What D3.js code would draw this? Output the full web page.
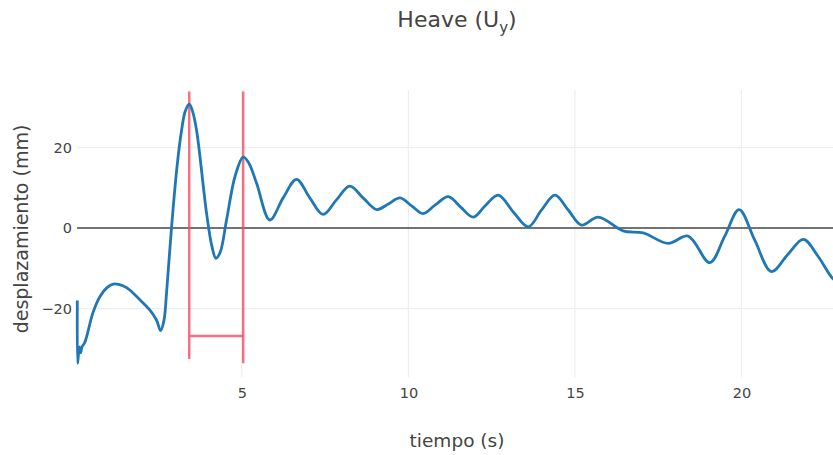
<!DOCTYPE html>
<html>
<head>
<meta charset="utf-8">
<script src="https://cdn.jsdelivr.net/npm/d3@7"></script>
<style>
  body { margin: 0; background: #fff; }
  svg { display: block; font-family: "DejaVu Sans", Verdana, sans-serif; }
</style>
</head>
<body>
<div id="chart"></div>
<script>
// heave record (s, mm)
const tiempo = [0.06, 0.07, 0.12, 0.16, 0.2, 0.28, 0.53, 0.74, 0.95, 1.14, 1.3, 1.54, 1.9, 2.24, 2.44, 2.56, 2.66, 2.74, 2.89, 3.05, 3.19, 3.3, 3.42, 3.52, 3.64, 3.94, 4.1, 4.22, 4.35, 4.54, 4.8, 5.04, 5.2, 5.44, 5.84, 6.24, 6.64, 7.04, 7.44, 7.84, 8.24, 8.64, 9.05, 9.4, 9.75, 10.1, 10.44, 10.8, 11.2, 11.57, 11.95, 12.3, 12.7, 13.15, 13.6, 14.0, 14.4, 14.8, 15.2, 15.7, 16.45, 17.05, 17.8, 18.4, 19.05, 19.5, 19.93, 20.4, 20.9, 21.4, 21.86, 22.3, 22.74, 22.9];
const desplazamiento = [-18, -33.6, -29.5, -31, -29.5, -28.5, -21, -17, -14.8, -13.9, -14, -14.8, -17.5, -20.4, -22.9, -25.5, -23, -16, 0.3, 15, 24.3, 29, 30.8, 29, 24.3, 3.7, -4.5, -7.5, -6, 2, 13, 17.6, 16.3, 11.2, 2, 7.5, 12.1, 7.5, 3.4, 7, 10.4, 7.5, 4.6, 6, 7.5, 5.5, 3.6, 5.7, 7.8, 5.2, 2.7, 5.5, 8.2, 4, 0.3, 4.5, 8.2, 4.5, 0.75, 2.7, -0.7, -1.2, -3.8, -2, -8.6, -2, 4.6, -3, -10.8, -6.5, -2.8, -7, -12.5, -13.2];

// period marker (first two peaks)
const markerTimes = [3.42, 5.04];
const markerBottoms = [-32.5, -33.6];
const markerTop = 33.9;
const periodLevel = -26.8;

const xTicks = [5, 10, 15, 20];
const yTicks = [-20, 0, 20];

const W = 833, H = 455;
const margin = { top: 90, right: -4, bottom: 78, left: 77 };
const width = W - margin.left - margin.right;
const height = H - margin.top - margin.bottom;

const data = tiempo.map((t, i) => ({ t, v: desplazamiento[i] }));

const svg = d3.select("#chart").append("svg")
  .attr("width", W)
  .attr("height", H);

const g = svg.append("g")
  .attr("transform", `translate(${margin.left},${margin.top})`);

const x = d3.scaleLinear().domain([0.05, 22.87]).range([0, width]);
const y = d3.scaleLinear().domain([-37, 34.3]).range([height, 0]);

// grid
g.append("g")
  .selectAll("line")
  .data(xTicks)
  .join("line")
  .attr("x1", d => x(d)).attr("x2", d => x(d))
  .attr("y1", 0).attr("y2", height)
  .attr("stroke", "#eeeeee").attr("stroke-width", 1.2);

g.append("g")
  .selectAll("line")
  .data(yTicks.filter(d => d !== 0))
  .join("line")
  .attr("x1", 0).attr("x2", width)
  .attr("y1", d => y(d)).attr("y2", d => y(d))
  .attr("stroke", "#eeeeee").attr("stroke-width", 1.2);

// zero line
g.append("line")
  .attr("x1", 0).attr("x2", width)
  .attr("y1", y(0)).attr("y2", y(0))
  .attr("stroke", "#444").attr("stroke-width", 1.5);

// axes (labels only, plotly style)
const xAxis = g.append("g")
  .attr("transform", `translate(0,${height})`)
  .call(d3.axisBottom(x).tickValues(xTicks).tickSize(0).tickPadding(11));
const yAxis = g.append("g")
  .call(d3.axisLeft(y).tickValues(yTicks).tickSize(0).tickPadding(5).tickFormat(d => d < 0 ? "\u2212" + Math.abs(d) : d));
[xAxis, yAxis].forEach(a => {
  a.select(".domain").remove();
  a.selectAll("text")
    .attr("fill", "#444")
    .style("font-family", "DejaVu Sans")
    .style("font-size", "14.5px");
});

// period marker
const red = "rgba(238, 80, 100, 0.8)";
g.append("g")
  .selectAll("line")
  .data(markerTimes)
  .join("line")
  .attr("x1", d => x(d)).attr("x2", d => x(d))
  .attr("y1", y(markerTop))
  .attr("y2", (d, i) => y(markerBottoms[i]))
  .attr("stroke", red).attr("stroke-width", 2.5);

g.append("line")
  .attr("x1", x(markerTimes[0])).attr("x2", x(markerTimes[1]))
  .attr("y1", y(periodLevel)).attr("y2", y(periodLevel))
  .attr("stroke", red).attr("stroke-width", 2.5);

// curve
const line = d3.line()
  .x(d => x(d.t))
  .y(d => y(d.v))
  .curve(d3.curveCatmullRom.alpha(0.5));

g.append("path")
  .datum(data)
  .attr("d", line)
  .attr("fill", "none")
  .attr("stroke", "#1f77b4")
  .attr("stroke-width", 2.8)
  .attr("stroke-linejoin", "round");

// titles
const title = svg.append("text")
  .attr("x", 457).attr("y", 27)
  .attr("text-anchor", "middle")
  .attr("fill", "#444")
  .style("font-size", "22px");
title.append("tspan").text("Heave (U");
title.append("tspan").attr("dy", 6).style("font-size", "15px").text("y");
title.append("tspan").attr("dy", -6).text(")");

svg.append("text")
  .attr("x", 457).attr("y", 447)
  .attr("text-anchor", "middle")
  .attr("fill", "#444")
  .style("font-size", "18.5px")
  .text("tiempo (s)");

svg.append("text")
  .attr("transform", `translate(28,229) rotate(-90)`)
  .attr("text-anchor", "middle")
  .attr("fill", "#444")
  .style("font-size", "19px")
  .text("desplazamiento (mm)");
</script>
</body>
</html>
